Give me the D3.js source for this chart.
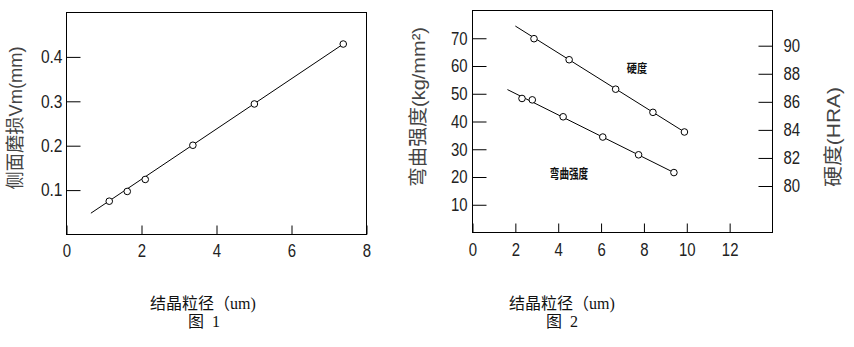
<!DOCTYPE html>
<html>
<head>
<meta charset="utf-8" />
<script src="https://cdn.jsdelivr.net/npm/d3@7"></script>
<style>
    body { margin: 0; background: #fff; }
    .tick text { font-family: "Liberation Sans", sans-serif; font-size: 18px; fill: #222; }
    .tick line { stroke: #000; }
    .cap { font-family: "Liberation Serif", "Noto Sans CJK SC", serif; font-size: 16px; fill: #111; }
    .ylab { font-family: "Liberation Sans", "Noto Sans CJK SC", sans-serif; font-size: 19px; fill: #444; }
    .note { font-family: "Noto Sans CJK SC", sans-serif; font-size: 12px; font-weight: bold; fill: #111; }
</style>
</head>
<body>
<svg width="854" height="347"></svg>
<script>
// 图1：侧面磨损 vs 结晶粒径
var wearX = [1.14, 1.62, 2.10, 3.37, 5.01, 7.38];
var wearY = [0.075, 0.097, 0.124, 0.201, 0.294, 0.429];
var wearFitX = [0.65, 7.38];
var wearFitY = [0.048, 0.429];
var fig1XTicks = [0, 2, 4, 6, 8];
var fig1YTicks = [0.1, 0.2, 0.3, 0.4];

// 图2：弯曲强度 / 硬度 vs 结晶粒径
var hardX = [2.87, 4.51, 6.68, 8.42, 9.89];
var hardY = [90.5, 89.0, 86.9, 85.25, 83.85];
var hardFitX = [2.0, 9.89];
var hardFitY = [91.4, 83.85];
var bendX = [2.31, 2.79, 4.23, 6.08, 7.75, 9.40];
var bendY = [48.3, 47.8, 41.7, 34.4, 28.0, 21.6];
var bendFitX = [1.63, 9.40];
var bendFitY = [51.5, 21.6];
var fig2XTicks = [0, 2, 4, 6, 8, 10, 12];
var fig2YTicks = [10, 20, 30, 40, 50, 60, 70];
var fig2RTicks = [80, 82, 84, 86, 88, 90];

var svg = d3.select("svg");

// narrow the tick digits like the original's condensed face
function narrow(g) {
    g.select(".domain").remove();
    g.selectAll(".tick text")
        .attr("lengthAdjust", "spacingAndGlyphs")
        .attr("textLength", function () {
            var s = d3.select(this).text();
            var digits = s.replace(/\./g, "").length, dots = s.length - digits;
            return digits * 8.3 + dots * 5;
        });
}

function frame(x0, x1, y0, y1) {
    svg.append("rect").attr("x", x0).attr("y", y0)
        .attr("width", x1 - x0).attr("height", y1 - y0)
        .attr("fill", "none").attr("stroke", "#000").attr("stroke-width", 1);
}

function fitLine(xs, ys, sx, sy) {
    svg.append("path")
        .attr("d", d3.line().x(function (d) { return sx(d); }).y(function (d, i) { return sy(ys[i]); })(xs))
        .attr("fill", "none").attr("stroke", "#000").attr("stroke-width", 1);
}

function dots(xs, ys, sx, sy) {
    svg.append("g").selectAll("circle").data(xs).enter().append("circle")
        .attr("cx", function (d) { return sx(d); })
        .attr("cy", function (d, i) { return sy(ys[i]); })
        .attr("r", 3.3)
        .attr("fill", "#fff").attr("stroke", "#000").attr("stroke-width", 1);
}

function ylabel(x, y, len, txt) {
    return svg.append("text").attr("class", "ylab")
        .attr("transform", "translate(" + x + "," + y + ") rotate(-90)")
        .attr("text-anchor", "middle")
        .attr("lengthAdjust", "spacingAndGlyphs").attr("textLength", len)
        .text(txt);
}

// ---- 图1 ----
var x1 = d3.scaleLinear().domain([0, 8]).range([66.5, 366.5]);
var y1 = d3.scaleLinear().domain([0, 0.5]).range([234.5, 12.5]);

svg.append("g").attr("transform", "translate(0,234.5)")
    .call(d3.axisBottom(x1).tickValues(fig1XTicks).tickSize(-9).tickPadding(10).tickFormat(d3.format("d")))
    .call(narrow);
svg.append("g").attr("transform", "translate(66.5,0)")
    .call(d3.axisLeft(y1).tickValues(fig1YTicks).tickSize(-14).tickPadding(4).tickFormat(d3.format(".1f")))
    .call(narrow);
frame(66.5, 366.5, 12.5, 234.5);

fitLine(wearFitX, wearFitY, x1, y1);
dots(wearX, wearY, x1, y1);

ylabel(22, 118, 143, "侧面磨损Vm(mm)");

svg.append("text").attr("class", "cap").attr("x", 203).attr("y", 309)
    .attr("text-anchor", "middle").text("结晶粒径（um)");
svg.append("text").attr("class", "cap").attr("x", 204).attr("y", 327)
    .attr("text-anchor", "middle").attr("xml:space", "preserve").text("图  1");

// ---- 图2 ----
var x2 = d3.scaleLinear().domain([0, 14]).range([472.5, 772.5]);
var y2 = d3.scaleLinear().domain([0, 80]).range([232.5, 10.5]);
var r2 = d3.scaleLinear().domain([80, 90]).range([186, 45.7]);

svg.append("g").attr("transform", "translate(0,232.5)")
    .call(d3.axisBottom(x2).tickValues(fig2XTicks).tickSize(-9).tickPadding(11).tickFormat(d3.format("d")))
    .call(narrow);
svg.append("g").attr("transform", "translate(472.5,0)")
    .call(d3.axisLeft(y2).tickValues(fig2YTicks).tickSize(-14).tickPadding(5).tickFormat(d3.format("d")))
    .call(narrow);
svg.append("g").attr("transform", "translate(772.5,0)")
    .call(d3.axisRight(r2).tickValues(fig2RTicks).tickSize(-14).tickPadding(11).tickFormat(d3.format("d")))
    .call(narrow);
frame(472.5, 772.5, 10.5, 232.5);

fitLine(hardFitX, hardFitY, x2, r2);
dots(hardX, hardY, x2, r2);
fitLine(bendFitX, bendFitY, x2, y2);
dots(bendX, bendY, x2, y2);

svg.append("text").attr("class", "note")
    .attr("transform", "translate(637,73) scale(0.85,1)")
    .attr("text-anchor", "middle").text("硬度");
svg.append("text").attr("class", "note")
    .attr("transform", "translate(569,178) scale(0.8,1.05)")
    .attr("text-anchor", "middle").text("弯曲强度");

ylabel(425, 107, 160, "弯曲强度(kg/mm²)");
ylabel(840, 137, 100, "硬度(HRA)");

svg.append("text").attr("class", "cap").attr("x", 562).attr("y", 309)
    .attr("text-anchor", "middle").text("结晶粒径（um)");
svg.append("text").attr("class", "cap").attr("x", 562).attr("y", 327)
    .attr("text-anchor", "middle").attr("xml:space", "preserve").text("图  2");
</script>
</body>
</html>
